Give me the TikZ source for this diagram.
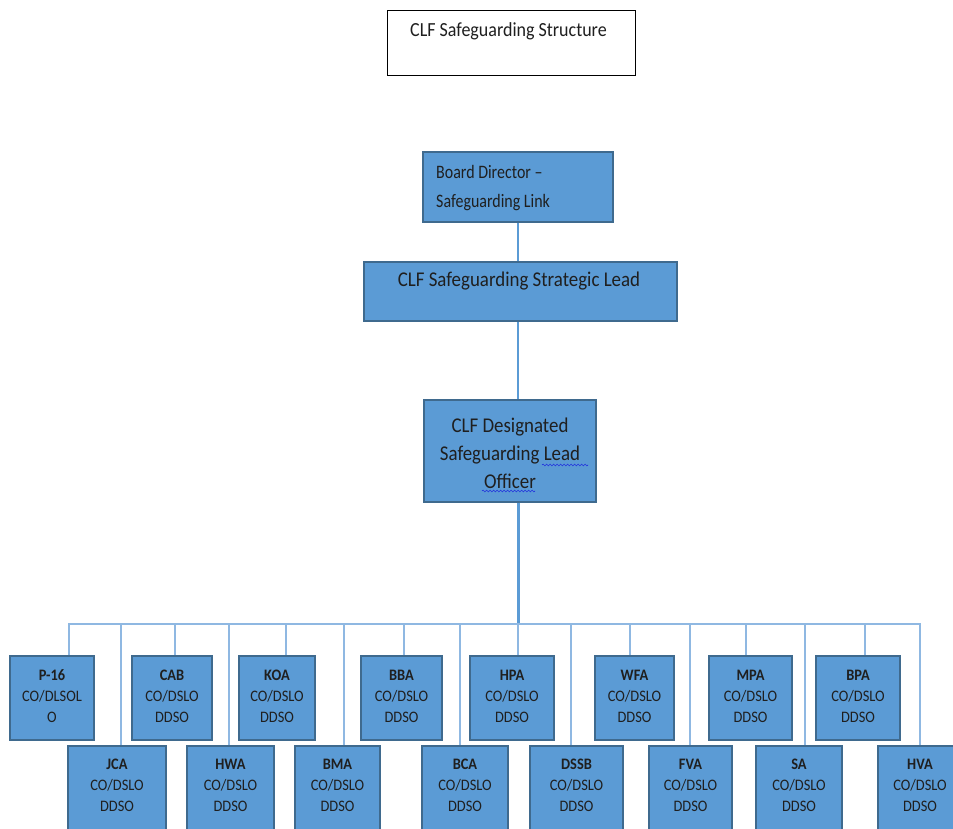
\documentclass[tikz,border=0pt]{standalone}
\usepackage{fontspec}
\setmainfont{Carlito}[FakeStretch=0.9]
\newfontfamily\boardfont{Carlito}[FakeStretch=0.84,Ligatures=TeX]
\usetikzlibrary{decorations.pathmorphing}
\definecolor{boxfill}{HTML}{5B9BD5}
\definecolor{boxline}{HTML}{3F6A8E}
\definecolor{linkline}{HTML}{8FB8E2}
\definecolor{spineline}{HTML}{5B9BD5}
\definecolor{squig}{HTML}{2233DD}
\tikzset{
  ubox/.style={draw=boxline, line width=1.3pt, fill=boxfill, rectangle, inner sep=0pt},
  tbox/.style={draw=black, line width=1pt, fill=white, rectangle, inner sep=0pt},
  utxt/.style={align=center, inner sep=0pt, font=\fontsize{16}{21}\selectfont, text=black!88},
  htxt/.style={align=center, inner sep=0pt, font=\fontsize{21}{28}\selectfont, text=black!88},
  link/.style={draw=linkline, line width=1.6pt},
  spine/.style={draw=spineline, line width=2pt},
}
\newcommand\obox[7]{\node[ubox,minimum width=#4pt,minimum height=#5pt] (#1) at (#2,#3) {};
  \node[utxt] (#1t) at (#2,#6) {#7};}
\begin{document}
\begin{tikzpicture}[x=1pt,y=-1pt]
\useasboundingbox (0,0) rectangle (953,828);
\clip (0,0) rectangle (953,828);
% title
\node[tbox, minimum width=248pt, minimum height=65pt] (title) at (511,42.5) {};
\node[htxt, font=\fontsize{20}{28}\selectfont] (titlet) at (508.5,31) {CLF Safeguarding Structure};
% board director
\node[ubox, minimum width=190pt, minimum height=70pt] (board) at (518,187) {};
\node[htxt, align=left, anchor=west, font=\boardfont\fontsize{19}{29}\selectfont] (boardt) at (436,188.5) {Board Director –\\Safeguarding Link};
% strategic lead
\node[ubox, minimum width=313pt, minimum height=59pt] (strat) at (520.5,291.5) {};
\node[htxt] (stratt) at (519,281) {CLF Safeguarding Strategic Lead};
% designated lead
\node[ubox, minimum width=172pt, minimum height=102pt] (desig) at (510,451) {};
\node[htxt] (desigt) at (510,453) {CLF Designated\\Safeguarding Lead\\Officer};
\draw[squig, line width=0.6pt, decorate, decoration={snake, amplitude=0.9pt, segment length=3.5pt}] (542,465) -- (588,465);
\draw[squig, line width=0.6pt, decorate, decoration={snake, amplitude=0.9pt, segment length=3.5pt}] (482,491) -- (535,491);
% spine
\coordinate (spx) at (518,624);
\coordinate (busL) at (68,624);
\coordinate (busR) at (921,624);
\draw[spine] (board.south -| spx) -- (strat.north -| spx);
\draw[spine] (strat.south -| spx) -- (desig.north -| spx);
\draw[spine, line width=3pt] (desig.south -| spx) -- (spx);
\draw[link, line width=2.2pt] (busL) -- (busR);
% top row
\obox{p16}{52}{698}{84}{84}{696}{\textbf{P-16}\\CO/DLSOL\\O}
\obox{cab}{172}{698}{80}{84}{696}{\textbf{CAB}\\CO/DSLO\\DDSO}
\obox{koa}{277}{698}{76}{84}{696}{\textbf{KOA}\\CO/DSLO\\DDSO}
\obox{bba}{401.5}{698}{81}{84}{696}{\textbf{BBA}\\CO/DSLO\\DDSO}
\obox{hpa}{512}{698}{84}{84}{696}{\textbf{HPA}\\CO/DSLO\\DDSO}
\obox{wfa}{634.5}{698}{79}{84}{696}{\textbf{WFA}\\CO/DSLO\\DDSO}
\obox{mpa}{750.5}{698}{83}{84}{696}{\textbf{MPA}\\CO/DSLO\\DDSO}
\obox{bpa}{858}{698}{84}{84}{696}{\textbf{BPA}\\CO/DSLO\\DDSO}
% bottom row
\obox{jca}{117}{790}{98}{88}{785}{\textbf{JCA}\\CO/DSLO\\DDSO}
\obox{hwa}{230.5}{790}{87}{88}{785}{\textbf{HWA}\\CO/DSLO\\DDSO}
\obox{bma}{337.5}{790}{85}{88}{785}{\textbf{BMA}\\CO/DSLO\\DDSO}
\obox{bca}{465}{790}{86}{88}{785}{\textbf{BCA}\\CO/DSLO\\DDSO}
\obox{dssb}{576.5}{790}{93}{88}{785}{\textbf{DSSB}\\CO/DSLO\\DDSO}
\obox{fva}{690.5}{790}{83}{88}{785}{\textbf{FVA}\\CO/DSLO\\DDSO}
\obox{sa}{799}{790}{86}{88}{785}{\textbf{SA}\\CO/DSLO\\DDSO}
\obox{hva}{920}{790}{84}{88}{785}{\textbf{HVA}\\CO/DSLO\\DDSO}
% drops
\foreach \n/\x in {p16/69,cab/175,koa/286,bba/404,hpa/518,wfa/630,mpa/746,bpa/865,jca/121,hwa/229,bma/344,bca/460,dssb/571,fva/690,sa/805,hva/920}{
  \coordinate (d\n) at (\x,624);
  \draw[link] (d\n) -- (d\n |- \n.north);
}
\end{tikzpicture}
\end{document}
